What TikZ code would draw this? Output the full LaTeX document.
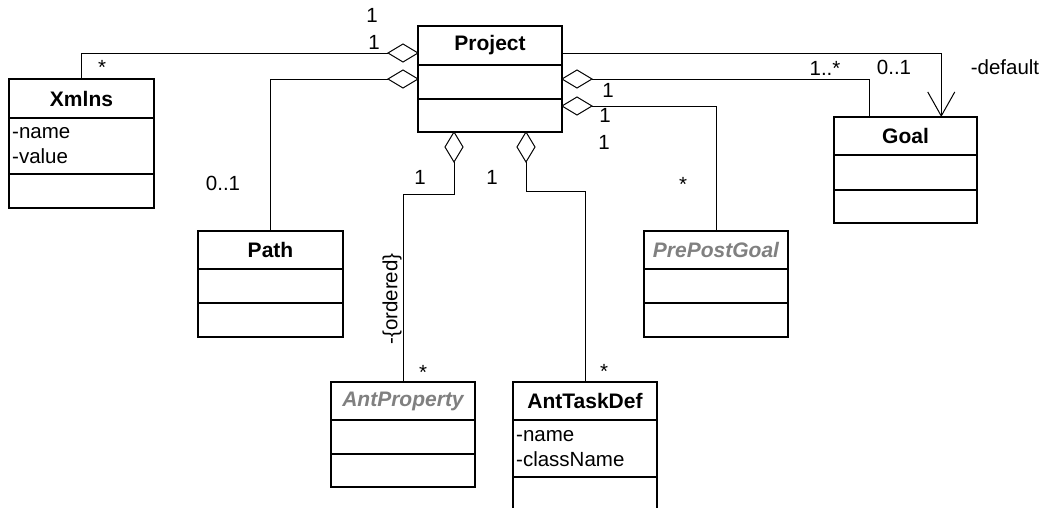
\documentclass[tikz,border=0pt]{standalone}
\usepackage{fontspec}
\setmainfont{Liberation Sans}
\usetikzlibrary{shapes.geometric,arrows.meta,calc}
\begin{document}
\begin{tikzpicture}[x=1pt,y=-1pt,
  box/.style={draw, line width=1.2pt, rectangle, inner sep=0pt, outer sep=0pt, anchor=north west},
  divline/.style={line width=1.2pt},
  conn/.style={draw, line width=0.9pt},
  agg/.style={draw, line width=1pt, diamond, inner sep=0pt, outer sep=0pt, minimum width=30pt, minimum height=18pt, fill=white},
  aggv/.style={draw, line width=1pt, diamond, inner sep=0pt, outer sep=0pt, minimum width=18pt, minimum height=30pt, fill=white},
  lbl/.style={font=\fontsize{20.5}{22}\selectfont, inner sep=0pt},
  cname/.style={font=\fontsize{21}{22}\selectfont\bfseries, inner sep=0pt},
  aname/.style={font=\fontsize{21}{22}\selectfont\bfseries\itshape, text=black!50, inner sep=0pt},
  attr/.style={font=\fontsize{20.5}{25}\selectfont, inner sep=0pt, anchor=north west, align=left}
]
\clip (0,0) rectangle (1047,508);
\fill[white] (0,0) rectangle (1047,508);

% class boxes
\node[box, minimum width=144pt, minimum height=106pt] (proj) at (418,26) {};
\node[box, minimum width=145pt, minimum height=129pt] (xmlns) at (9,79) {};
\node[box, minimum width=145pt, minimum height=106pt] (path) at (198,231) {};
\node[box, minimum width=143pt, minimum height=106pt] (goal) at (834,117) {};
\node[box, minimum width=144pt, minimum height=106pt] (prepost) at (644,231) {};
\node[box, minimum width=144pt, minimum height=105pt] (antprop) at (331,382) {};
\node[box, minimum width=144pt, minimum height=140pt] (anttask) at (513,382) {};

% dividers
\draw[divline] ($(proj.north west)+(0,39)$) -- ($(proj.north east)+(0,39)$);
\draw[divline] ($(proj.north west)+(0,73)$) -- ($(proj.north east)+(0,73)$);
\draw[divline] ($(xmlns.north west)+(0,39)$) -- ($(xmlns.north east)+(0,39)$);
\draw[divline] ($(xmlns.north west)+(0,95)$) -- ($(xmlns.north east)+(0,95)$);
\draw[divline] ($(path.north west)+(0,38)$) -- ($(path.north east)+(0,38)$);
\draw[divline] ($(path.north west)+(0,72)$) -- ($(path.north east)+(0,72)$);
\draw[divline] ($(goal.north west)+(0,38)$) -- ($(goal.north east)+(0,38)$);
\draw[divline] ($(goal.north west)+(0,73)$) -- ($(goal.north east)+(0,73)$);
\draw[divline] ($(prepost.north west)+(0,38)$) -- ($(prepost.north east)+(0,38)$);
\draw[divline] ($(prepost.north west)+(0,72)$) -- ($(prepost.north east)+(0,72)$);
\draw[divline] ($(antprop.north west)+(0,38)$) -- ($(antprop.north east)+(0,38)$);
\draw[divline] ($(antprop.north west)+(0,72)$) -- ($(antprop.north east)+(0,72)$);
\draw[divline] ($(anttask.north west)+(0,38)$) -- ($(anttask.north east)+(0,38)$);
\draw[divline] ($(anttask.north west)+(0,95)$) -- ($(anttask.north east)+(0,95)$);

% class names
\node[cname] (tproj) at ($(proj.north)+(0,19.5)$) {Project};
\node[cname] (txmlns) at ($(xmlns.north)+(0,19.5)$) {Xmlns};
\node[cname] (tpath) at ($(path.north)+(0,19)$) {Path};
\node[cname] (tgoal) at ($(goal.north)+(0,19)$) {Goal};
\node[aname] (tprepost) at ($(prepost.north)+(0,19)$) {PrePostGoal};
\node[aname] (tantprop) at ($(antprop.north)+(0,19)$) {AntProperty};
\node[cname] (tanttask) at ($(anttask.north)+(0,19)$) {AntTaskDef};

% attributes
\node[attr] (axmlns) at ($(xmlns.north west)+(3,48)$) {-name\\-value};
\node[attr] (aanttask) at ($(anttask.north west)+(3,48)$) {-name\\-className};

% aggregation diamonds
\node[agg, anchor=east] (dL1) at ($(proj.north west)+(0,27)$) {};
\node[agg, anchor=east] (dL2) at ($(proj.north west)+(0,53)$) {};
\node[agg, anchor=west] (dR1) at ($(proj.north east)+(0,53)$) {};
\node[agg, anchor=west] (dR2) at ($(proj.north east)+(0,80)$) {};
\node[aggv, anchor=north] (dB1) at ($(proj.south west)!0.25!(proj.south east)$) {};
\node[aggv, anchor=north] (dB2) at ($(proj.south west)!0.75!(proj.south east)$) {};

% connectors
\draw[conn] (dL1.west) -| (xmlns.north);
\draw[conn] (dL2.west) -| (path.north);
\draw[conn] (dR1.east) -| ($(goal.north west)!0.25!(goal.north east)$);
\draw[conn] (dR2.east) -| (prepost.north);
\draw[conn] (dB1.south) -- ++(0,32) -| (antprop.north);
\draw[conn] (dB2.south) -- ++(0,29) -| (anttask.north);
\draw[conn, -{Straight Barb[length=24pt,width=27pt,line width=1pt]}]
  ($(proj.north east)+(0,27)$) -| ($(goal.north west)!0.75!(goal.north east)$);

% multiplicities and roles
\node[lbl] (m1) at (372,15) {1};
\node[lbl] (m2) at (374,42) {1};
\node[lbl] (m3) at (102,67) {*};
\node[lbl] (m4) at (223,183) {0..1};
\node[lbl] (m5) at (608,90) {1};
\node[lbl] (m6) at (605,115) {1};
\node[lbl] (m7) at (604,142) {1};
\node[lbl] (m8) at (683,184) {*};
\node[lbl] (m9) at (420,177) {1};
\node[lbl] (m10) at (492,177) {1};
\node[lbl] (m11) at (825,68) {1..*};
\node[lbl] (m12) at (894,67) {0..1};
\node[lbl] (m13) at (1005,67) {-default};
\node[lbl] (m14) at (423,372) {*};
\node[lbl] (m15) at (604,371) {*};
\node[lbl, rotate=90] (ord) at (392,299) {-\{ordered\}};
\end{tikzpicture}
\end{document}
